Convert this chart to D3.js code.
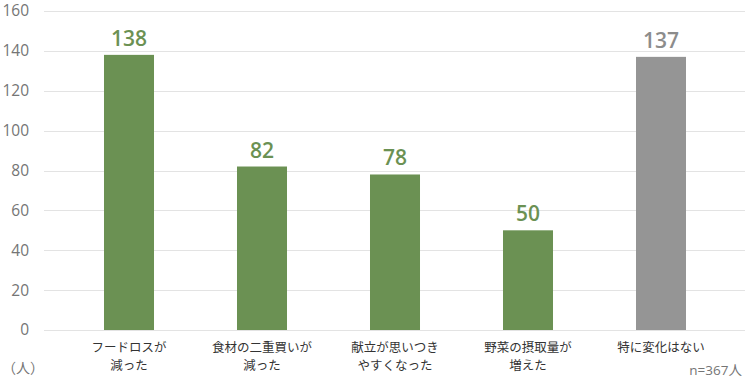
<!DOCTYPE html>
<html><head><meta charset="utf-8">
<script src="https://cdn.jsdelivr.net/npm/d3@7"></script>
<style>body{margin:0;background:#fff;} svg{display:block;}</style>
</head><body>
<svg id="chart" width="745" height="381"></svg>
<script>
const categories = [["フードロスが","減った"],["食材の二重買いが","減った"],["献立が思いつき","やすくなった"],["野菜の摂取量が","増えた"],["特に変化はない"]];
const values = [138, 82, 78, 50, 137];
const barColors = ["#6b9153","#6b9153","#6b9153","#6b9153","#959595"];
const labelColors = ["#6b9153","#6b9153","#6b9153","#6b9153","#8c8c8c"];
const yTicks = [0,20,40,60,80,100,120,140,160];

const svg = d3.select("#chart");
const font = "'Noto Sans CJK JP','Noto Sans',sans-serif";
const numFont = "'Open Sans','Noto Sans CJK JP',sans-serif";
const x = d3.scaleBand().domain(d3.range(values.length)).range([62.5, 727.5]).paddingInner(0.624).paddingOuter(0.312);
const y = d3.scaleLinear().domain([0,160]).range([330, 11]);

// grid
svg.append("g").selectAll("line").data(yTicks).join("line")
  .attr("x1",44).attr("x2",745)
  .attr("y1",d=>Math.round(y(d))+0.5).attr("y2",d=>Math.round(y(d))+0.5)
  .attr("stroke","#e3e3e3").attr("stroke-width",1);

// y axis labels
const yAxis = d3.axisLeft(y).tickValues(yTicks).tickSize(0).tickPadding(0);
const ga = svg.append("g").attr("transform","translate(29,0)").call(yAxis);
ga.select(".domain").remove();
ga.selectAll("text").attr("font-family",numFont).attr("font-size",15.5).attr("fill","#757575");

// bars
svg.append("g").selectAll("rect").data(values).join("rect")
  .attr("x",(d,i)=>x(i)).attr("width",x.bandwidth())
  .attr("y",d=>y(d)).attr("height",d=>y(0)-y(d))
  .attr("fill",(d,i)=>barColors[i]);

// value labels
svg.append("g").selectAll("text").data(values).join("text")
  .attr("x",(d,i)=>x(i)+x.bandwidth()/2).attr("y",d=>y(d)-9)
  .attr("text-anchor","middle").attr("font-family",numFont).attr("font-size",21).attr("font-weight",600)
  .attr("fill",(d,i)=>labelColors[i]).text(d=>d);

// category labels
const cg = svg.append("g").selectAll("text").data(categories).join("text")
  .attr("text-anchor","middle").attr("font-family",font).attr("font-size",12.5).attr("fill","#333");
cg.each(function(lines,i){
  const t = d3.select(this);
  lines.forEach((l,j)=>{
    t.append("tspan").attr("x",x(i)+x.bandwidth()/2).attr("y",351.5+j*18.5).text(l);
  });
});

svg.append("text").attr("x",2).attr("y",373).attr("font-family",font).attr("font-size",14).attr("fill","#757575").text("（人）");
svg.append("text").attr("x",742).attr("y",375).attr("text-anchor","end").attr("font-family",numFont).attr("font-size",13.5).attr("fill","#757575").text("n=367人");
</script>
</body></html>
